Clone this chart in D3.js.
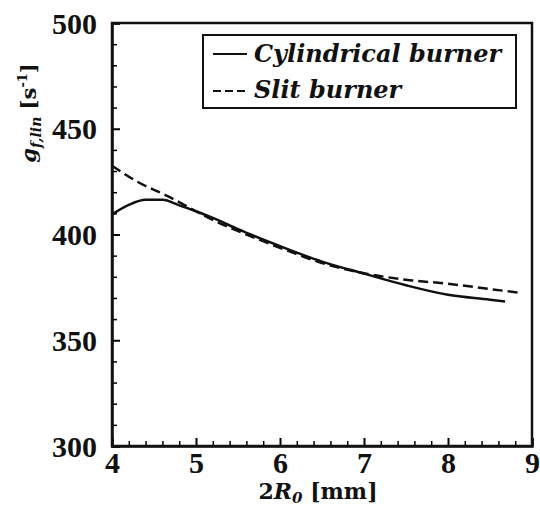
<!DOCTYPE html>
<html>
<head>
<meta charset="utf-8">
<script src="https://cdn.jsdelivr.net/npm/d3@7"></script>
<style>
  body { margin: 0; background: #fff; }
  text { font-family: "DejaVu Serif", serif; font-weight: bold; fill: #111; }
</style>
</head>
<body>
<svg id="chart" width="540" height="507"></svg>
<script>
// diameter 2R0 [mm]
var cylX = [4.0, 4.2, 4.4, 4.6, 4.8, 5.0, 5.25, 5.5, 6.0, 6.5, 7.0, 7.5, 8.0, 8.5, 8.68];
var cylY = [409.5, 414.0, 416.4, 416.4, 413.8, 411.0, 407.0, 402.5, 394.5, 387.2, 381.5, 376.0, 371.5, 369.2, 368.3];
var slitX = [4.0, 4.3, 4.67, 5.0, 5.2, 5.7, 6.12, 6.5, 7.0, 7.5, 8.0, 8.5, 8.83];
var slitY = [432.5, 425.0, 418.0, 411.0, 406.9, 398.4, 391.9, 386.5, 381.7, 378.6, 376.7, 374.2, 372.6];
var xTicks = [4, 5, 6, 7, 8, 9];
var yTicks = [300, 350, 400, 450, 500];
var legendLabels = ['Cylindrical burner', 'Slit burner'];

var svg = d3.select('#chart'),
    margin = {top: 23, right: 8, bottom: 61, left: 112},
    width = +svg.attr('width') - margin.left - margin.right,
    height = +svg.attr('height') - margin.top - margin.bottom,
    g = svg.append('g')
          .attr('transform', `translate(${margin.left}, ${margin.top})`);

var x = d3.scaleLinear().domain([4, 9]).range([0, width]),
    y = d3.scaleLinear().domain([300, 500]).range([height, 0]);

var line = d3.line()
  .x(d => x(d[0]))
  .y(d => y(d[1]))
  .curve(d3.curveMonotoneX);

// minor ticks
var xMinor = d3.range(4, 9.001, 0.2).filter(v => Math.abs(v - Math.round(v)) > 0.01);
var yMinor = d3.range(300, 500.1, 10).filter(v => v % 50 !== 0);

var xAxis = g.append('g')
  .attr('transform', `translate(0, ${height})`)
  .call(d3.axisBottom(x).tickValues(xTicks).tickSize(-8).tickPadding(6).tickFormat(d3.format('d')));
xAxis.selectAll('.tick line').attr('stroke-width', 2);

g.append('g')
  .attr('transform', `translate(0, ${height})`)
  .call(d3.axisBottom(x).tickValues(xMinor).tickSize(-5).tickFormat(''))
  .call(a => a.select('.domain').remove())
  .selectAll('.tick line').attr('stroke-width', 1.5);

var yAxis = g.append('g')
  .call(d3.axisLeft(y).tickValues(yTicks).tickSize(-8).tickPadding(15));
yAxis.selectAll('.tick line').attr('stroke-width', 2);

g.append('g')
  .call(d3.axisLeft(y).tickValues(yMinor).tickSize(-5).tickFormat(''))
  .call(a => a.select('.domain').remove())
  .selectAll('.tick line').attr('stroke-width', 1.5);

g.selectAll('.tick text')
  .style('font-family', '"Liberation Serif", serif')
  .style('font-weight', 'bold')
  .style('font-size', '30px')
  .attr('fill', '#111');
xAxis.selectAll('.tick text').attr('dy', '0.71em');
yAxis.selectAll('.tick text').attr('dy', '0.34em');

// frame
g.append('rect')
  .attr('width', width)
  .attr('height', height)
  .attr('fill', 'none')
  .attr('stroke', '#111')
  .attr('stroke-width', 2.5);
g.selectAll('.domain').attr('stroke-width', 2.5).attr('stroke', '#111');

// curves
g.append('path')
  .datum(d3.zip(cylX, cylY))
  .attr('fill', 'none')
  .attr('stroke', '#111')
  .attr('stroke-width', 2.5)
  .attr('stroke-linejoin', 'round')
  .attr('d', line);

g.append('path')
  .datum(d3.zip(slitX, slitY))
  .attr('fill', 'none')
  .attr('stroke', '#111')
  .attr('stroke-width', 2.5)
  .attr('stroke-dasharray', '10,5')
  .attr('d', line);

// legend
var leg = svg.append('g').attr('transform', 'translate(203, 35)');
leg.append('rect')
  .attr('width', 313)
  .attr('height', 73)
  .attr('fill', '#fff')
  .attr('stroke', '#111')
  .attr('stroke-width', 2);
var legLineY = [19, 56], legTextY = [27, 63];
legendLabels.forEach(function (lab, i) {
  leg.append('line')
    .attr('x1', 10).attr('x2', 44)
    .attr('y1', legLineY[i]).attr('y2', legLineY[i])
    .attr('stroke', '#111')
    .attr('stroke-width', 2.2)
    .attr('stroke-dasharray', i === 1 ? '8,4' : null);
  leg.append('text')
    .attr('x', 51)
    .attr('y', legTextY[i])
    .style('font-size', '24px')
    .style('font-style', 'italic')
    .text(lab);
});

// axis labels
var xl = svg.append('text')
  .attr('x', 318)
  .attr('y', 499)
  .attr('text-anchor', 'middle')
  .style('font-size', '22px');
xl.append('tspan').text('2');
xl.append('tspan').style('font-style', 'italic').text('R');
xl.append('tspan').attr('dy', 4).style('font-size', '15px').style('font-style', 'italic').text('0');
xl.append('tspan').attr('dy', -4).text(' [mm]');

var yl = svg.append('text')
  .attr('transform', 'translate(36, 113) rotate(-90)')
  .attr('text-anchor', 'middle')
  .style('font-size', '21px');
yl.append('tspan').style('font-style', 'italic').text('g');
yl.append('tspan').attr('dy', 5).style('font-size', '14px').style('font-style', 'italic').text('f,lin');
yl.append('tspan').attr('dy', -5).text(' [s');
yl.append('tspan').attr('dy', -9).style('font-size', '13px').text('-1');
yl.append('tspan').attr('dy', 9).text(']');
</script>
</body>
</html>
